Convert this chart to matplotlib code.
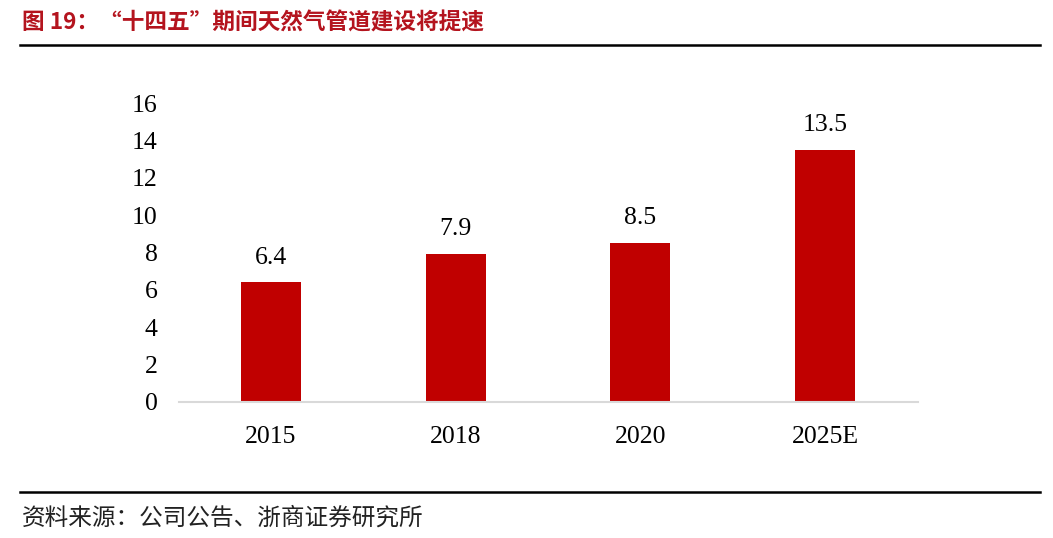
import matplotlib
matplotlib.use("Agg")
import matplotlib.pyplot as plt
from matplotlib.lines import Line2D

categories = ["2015", "2018", "2020", "2025E"]
values = [6.4, 7.9, 8.5, 13.5]
value_labels = ["6.4", "7.9", "8.5", "13.5"]
yticks = [0, 2, 4, 6, 8, 10, 12, 14, 16]

W, H = 1053, 538
fig = plt.figure(figsize=(W / 100, H / 100), dpi=100)

ax = fig.add_axes([178.5 / W, 1 - 402 / H, (917.5 - 178.5) / W, (402 - 103) / H])
x = list(range(len(categories)))
ax.bar(x, values, width=0.325, color="#C00000")
ax.set_xlim(-0.5, len(categories) - 0.5)
ax.set_ylim(0, 16)
ax.set_yticks(yticks)
ax.set_yticklabels([str(v) for v in yticks])
ax.set_xticks(x)
ax.set_xticklabels(categories)
for s in ["top", "right", "left"]:
    ax.spines[s].set_visible(False)
ax.spines["bottom"].set_color("#D9D9D9")
ax.spines["bottom"].set_linewidth(1.5)
ax.tick_params(axis="both", length=0, labelsize=18.5)
ax.tick_params(axis="y", pad=15)
ax.tick_params(axis="x", pad=17)
for lab in ax.get_xticklabels() + ax.get_yticklabels():
    lab.set_fontfamily("Liberation Serif")
for xi, v, t in zip(x, values, value_labels):
    ax.annotate(t, (xi, v), xytext=(0, 10), textcoords="offset points",
                ha="center", va="bottom", fontsize=18.5, family="Liberation Serif")

fig.text(22 / W, 1 - 23 / H, "图 19：“十四五”期间天然气管道建设将提速", color="#B4141E",
         fontsize=16.3, fontweight="bold", family=["Noto Sans CJK SC", "DejaVu Sans"],
         ha="left", va="center")
fig.add_artist(Line2D([20 / W, 1040 / W], [1 - 45 / H, 1 - 45 / H], color="black", lw=1.8,
                      transform=fig.transFigure))
fig.add_artist(Line2D([20 / W, 1040 / W], [1 - 492 / H, 1 - 492 / H], color="black", lw=1.8,
                      transform=fig.transFigure))
fig.text(22 / W, 1 - 518 / H, "资料来源：公司公告、浙商证券研究所", color="#222222",
         fontsize=17, family=["Noto Sans CJK SC", "DejaVu Sans"], ha="left", va="center")

fig.savefig("out.png", dpi=100)
